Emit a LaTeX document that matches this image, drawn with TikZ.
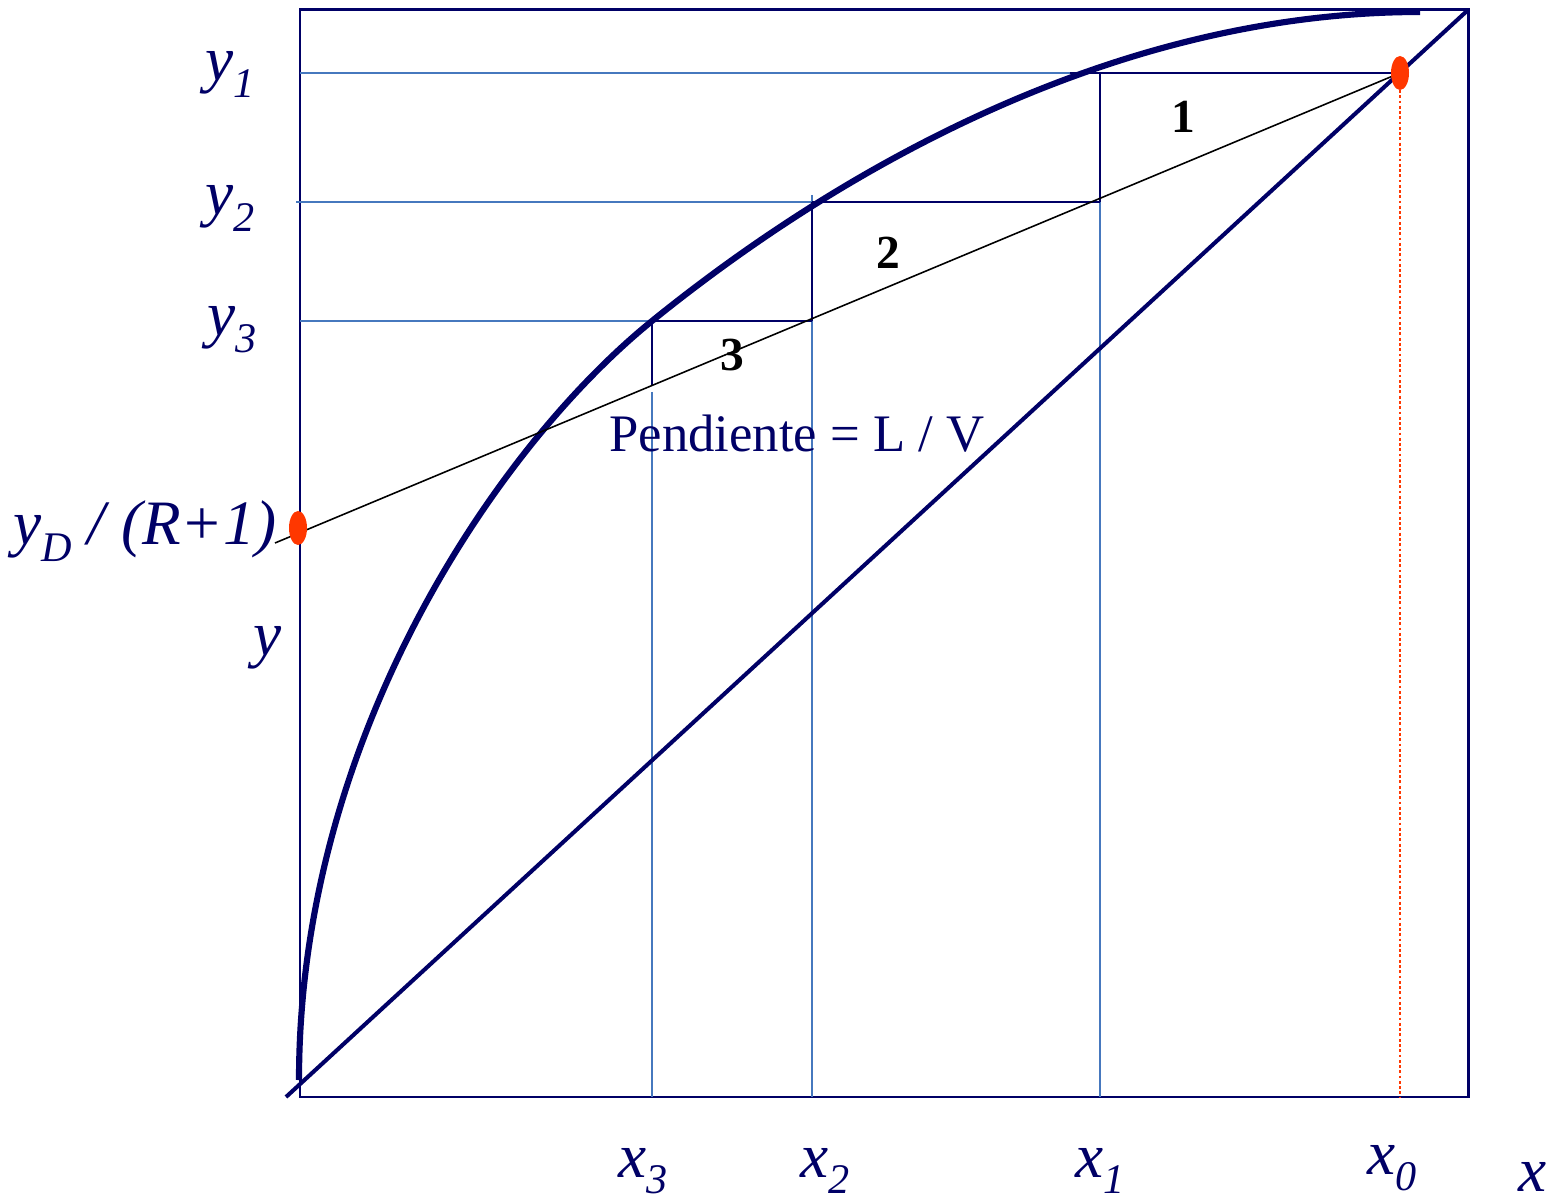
\documentclass[tikz,border=0pt]{standalone}
\usepackage{fontspec}
\setmainfont{Liberation Serif}
\definecolor{navy}{RGB}{0,0,102}
\definecolor{stepblue}{RGB}{70,120,190}
\definecolor{dotred}{RGB}{255,55,0}
\newcommand\sublab[2]{\textit{#1}\raisebox{-9.5pt}{\fontsize{24}{24}\selectfont\textit{#2}}}
\begin{document}
\begin{tikzpicture}[x=0.02cm,y=-0.02cm,
  frame/.style={draw=navy,line width=1.7pt},
  diag/.style={draw=navy,line width=2.3pt},
  eqcurve/.style={draw=navy,line width=3.5pt},
  guide/.style={draw=stepblue,line width=1.1pt},
  stair/.style={draw=navy,line width=1.4pt},
  opline/.style={draw=black,line width=0.9pt},
  lbl/.style={text=navy,inner sep=0pt,font=\fontsize{36}{42}\selectfont},
  num/.style={text=black,inner sep=0pt,font=\fontsize{27}{32}\selectfont\bfseries},
  reddot/.style={fill=dotred,draw=none}]
\path[use as bounding box] (0,0) rectangle (1556,1202);
% frame
\draw[frame] (300,10) rectangle (1468,1097);
% guide (blue) lines
\draw[guide] (300,73) -- (1100,73);
\draw[guide] (296,202) -- (812,202);
\draw[guide] (300,321) -- (652,321);
\draw[guide] (652,392) -- (652,1097);
\draw[guide] (812,195) -- (812,1097);
\draw[guide] (1100,202) -- (1100,1097);
% red dotted
\draw[dotred,line width=1.4pt,dash pattern=on 1.6pt off 1.4pt] (1400,90) -- (1400,1097);
% diagonal
\draw[diag] (286,1097) -- (1468,10);
% equilibrium curve
\coordinate (eq0) at (299,1080);
\coordinate (eqm) at (652,321);
\coordinate (eq1) at (1420,12);
\draw[eqcurve] (eq0) .. controls (299,738) and (496.6,446.8) .. (eqm)
  .. controls (846,164) and (1120,12) .. (eq1);
% steps
\draw[stair] (1070,73) -- (1400,73);
\draw[stair] (1100,73) -- (1100,202);
\draw[stair] (812,202) -- (1100,202);
\draw[stair] (812,202) -- (812,321);
\draw[stair] (652,321) -- (812,321);
\draw[stair] (652,321) -- (652,385);
% operating line
\coordinate (opA) at (275,543);
\coordinate (opB) at (1400,73);
\draw[opline] (opA) -- (opB);
% red dots
\fill[reddot] (298,528) ellipse [x radius=9,y radius=17];
\fill[reddot] (1400,73) ellipse [x radius=9,y radius=17];
% labels
\node[lbl,anchor=base west] (ly1) at (205,81) {\sublab{y}{1}};
\node[lbl,anchor=base west] (ly2) at (205,215) {\sublab{y}{2}};
\node[lbl,anchor=base west] (ly3) at (207,336) {\sublab{y}{3}};
\node[lbl,anchor=base west] (lyd) at (13,545) {\sublab{y}{D}\textit{\ /\ (R+1)}};
\node[lbl,anchor=base west] (ly) at (253,656) {\textit{y}};
\node[lbl,anchor=base west] (lx3) at (618,1177) {\sublab{x}{3}};
\node[lbl,anchor=base west] (lx2) at (800,1177) {\sublab{x}{2}};
\node[lbl,anchor=base west] (lx1) at (1075,1177) {\sublab{x}{1}};
\node[lbl,anchor=base west] (lx0) at (1367,1174) {\sublab{x}{0}};
\node[lbl,anchor=base west] (lx) at (1518,1191) {\textit{x}};
\node[lbl,anchor=base,font=\fontsize{30}{36}\selectfont] (slope) at (797,452) {Pendiente = L / V};
\node[num] (n1) at (1183,117) {1};
\node[num] (n2) at (888,253) {2};
\node[num] (n3) at (732,355) {3};
\end{tikzpicture}
\end{document}
